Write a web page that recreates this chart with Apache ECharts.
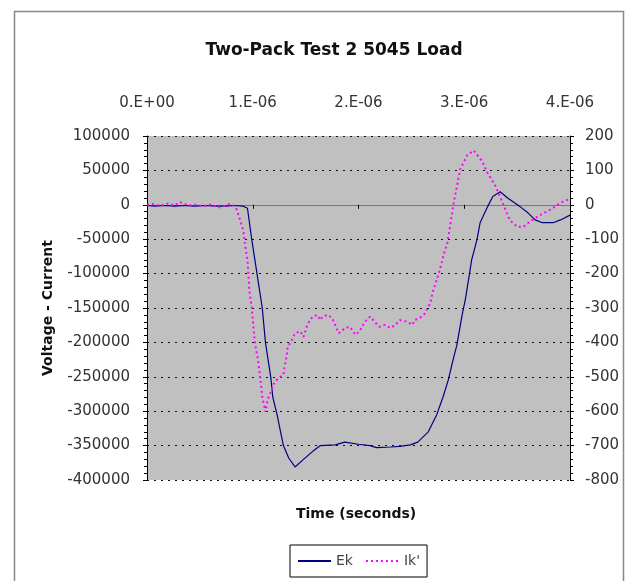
<!DOCTYPE html>
<html>
<head>
<meta charset="utf-8">
<script src="https://cdn.jsdelivr.net/npm/echarts@6/dist/echarts.min.js"></script>
<style>
html,body{margin:0;padding:0;background:#fff;}
#c{width:629px;height:581px;}
</style>
</head>
<body>
<div id="c"></div>
<script>
// ---- data (time in microseconds) ----
const titleText = "Two-Pack Test 2 5045 Load";
const xAxisTitle = "Time (seconds)";
const yAxisTitle = "Voltage - Current";
const seriesNames = ["Ek", "Ik'"];
const topTickLabels = ["0.E+00", "1.E-06", "2.E-06", "3.E-06", "4.E-06"];

const ekTimeUs = [0.00,0.08,0.17,0.26,0.36,0.45,0.55,0.64,0.74,0.83,0.91,0.95,0.99,1.04,1.09,1.12,1.17,1.19,1.23,1.26,1.29,1.34,1.40,1.48,1.57,1.64,1.78,1.87,2.00,2.11,2.17,2.30,2.39,2.49,2.56,2.66,2.74,2.80,2.85,2.89,2.93,2.98,3.01,3.03,3.07,3.12,3.15,3.22,3.27,3.34,3.41,3.53,3.59,3.67,3.74,3.84,3.91,4.00];
const ekValues = [-1000,-2000,-1000,-2000,-1000,-2000,-1000,-2000,-2000,-1000,-2000,-5000,-50000,-100000,-150000,-200000,-250000,-280000,-305000,-328000,-350000,-368000,-381000,-370000,-358000,-350000,-349000,-345000,-348000,-350000,-353000,-352000,-351000,-349000,-345000,-330000,-305000,-279000,-254000,-228000,-204000,-160000,-138000,-119000,-80000,-51000,-26000,-3000,12000,19000,10000,-3000,-10000,-22000,-26000,-26000,-22000,-15000];

const ikTimeUs = [0.00,0.06,0.12,0.20,0.26,0.31,0.39,0.45,0.53,0.61,0.67,0.74,0.78,0.83,0.85,0.88,0.91,0.93,0.95,0.96,0.97,0.99,1.00,1.02,1.05,1.07,1.09,1.12,1.14,1.18,1.19,1.24,1.29,1.30,1.32,1.33,1.37,1.40,1.45,1.48,1.51,1.54,1.57,1.61,1.64,1.66,1.71,1.75,1.78,1.81,1.84,1.87,1.92,1.97,2.01,2.06,2.11,2.16,2.20,2.25,2.30,2.35,2.39,2.46,2.51,2.53,2.58,2.63,2.68,2.70,2.74,2.77,2.80,2.84,2.86,2.88,2.90,2.93,2.96,3.03,3.09,3.17,3.22,3.29,3.34,3.39,3.43,3.50,3.56,3.62,3.69,3.76,3.84,3.91,3.98];
const ikValues = [0,2,-3,4,-2,8,-2,0,-4,1,-8,-3,2,-3,-15,-44,-73,-122,-160,-209,-256,-297,-335,-401,-451,-500,-558,-602,-567,-538,-524,-504,-495,-471,-442,-413,-393,-373,-368,-384,-355,-335,-325,-320,-335,-325,-320,-329,-349,-373,-368,-358,-355,-378,-368,-340,-325,-343,-355,-349,-358,-349,-335,-340,-349,-335,-329,-315,-285,-256,-218,-189,-151,-111,-73,-35,6,52,102,145,158,126,93,58,23,-15,-44,-64,-64,-49,-35,-23,-9,6,15];

const US = 1e-6;
const ekData = ekTimeUs.map((t, i) => [t * US, ekValues[i]]);
const ikData = ikTimeUs.map((t, i) => [t * US, ikValues[i]]);

const chart = echarts.init(document.getElementById('c'), null, {renderer: 'canvas'});
const FONT = '"DejaVu Sans", sans-serif';
const txt = {color: '#333', fontFamily: FONT, fontSize: 15};
const plain = v => String(v);

chart.setOption({
  animation: false,
  backgroundColor: '#fff',
  title: {
    text: titleText, left: 329, top: 37, textAlign: 'center',
    textStyle: {fontFamily: FONT, fontSize: 17, fontWeight: 'bold', color: '#111'}
  },
  graphic: [{
    type: 'rect', left: 12, top: 9, shape: {width: 609, height: 600},
    style: {fill: 'none', stroke: '#888', lineWidth: 1.5}, silent: true, z: -1
  }, {
    type: 'text', left: 296, top: 507, silent: true,
    style: {text: xAxisTitle, fontFamily: FONT, fontSize: 14, fontWeight: 'bold', fill: '#111'}
  }],
  grid: {left: 147, right: 59, top: 136, bottom: 101, show: true, backgroundColor: '#c0c0c0', borderWidth: 0},
  legend: {
    data: seriesNames, left: 290, top: 545, padding: [9, 7], itemGap: 12,
    itemWidth: 33, itemHeight: 12, borderColor: '#000', borderWidth: 1,
    itemStyle: {opacity: 0, borderWidth: 0},
    textStyle: {fontFamily: FONT, fontSize: 14, color: '#444'}
  },
  xAxis: [{
    type: 'value', position: 'bottom', min: 0, max: 4 * US, interval: 1 * US,
    axisLine: {show: true, onZero: true, lineStyle: {color: '#777', width: 1}},
    axisTick: {show: true, length: 4, lineStyle: {color: '#000'}},
    axisLabel: {show: false}, splitLine: {show: false}
  }, {
    type: 'value', position: 'top', min: 0, max: 4 * US, interval: 1 * US,
    axisLine: {show: false}, axisTick: {show: false}, splitLine: {show: false},
    axisLabel: Object.assign({margin: 25, showMinLabel: true, showMaxLabel: true,
      formatter: v => topTickLabels[Math.round(v / US)]}, txt)
  }],
  yAxis: [{
    type: 'value', position: 'left', min: -400000, max: 100000, interval: 50000,
    axisLine: {show: true, onZero: false, lineStyle: {color: '#000'}},
    axisTick: {show: true, length: 4, lineStyle: {color: '#000'}},
    minorTick: {show: true, splitNumber: 5, length: 3, lineStyle: {color: '#000'}},
    axisLabel: Object.assign({margin: 17, formatter: plain}, txt),
    splitLine: {show: true, lineStyle: {color: '#111', type: [2, 5], width: 1}},
    name: yAxisTitle, nameLocation: 'middle', nameGap: 92, nameRotate: 90,
    nameTextStyle: {fontFamily: FONT, fontSize: 14, fontWeight: 'bold', color: '#111'}
  }, {
    type: 'value', position: 'right', min: -800, max: 200, interval: 100,
    axisLine: {show: true, onZero: false, lineStyle: {color: '#000'}},
    axisTick: {show: true, length: 4, lineStyle: {color: '#000'}},
    minorTick: {show: true, splitNumber: 5, length: 3, lineStyle: {color: '#000'}},
    axisLabel: Object.assign({margin: 15, formatter: plain}, txt),
    splitLine: {show: false}
  }],
  series: [{
    name: seriesNames[0], type: 'line', xAxisIndex: 0, yAxisIndex: 0,
    data: ekData, showSymbol: false, symbol: 'none',
    lineStyle: {color: '#000080', width: 1.2}, itemStyle: {color: '#000080'}, z: 3
  }, {
    name: seriesNames[1], type: 'line', xAxisIndex: 0, yAxisIndex: 1,
    data: ikData, showSymbol: false, symbol: 'none',
    lineStyle: {color: '#ff00ff', width: 2, type: [2, 3]}, itemStyle: {color: '#ff00ff'}, z: 4
  }]
});
</script>
</body>
</html>
